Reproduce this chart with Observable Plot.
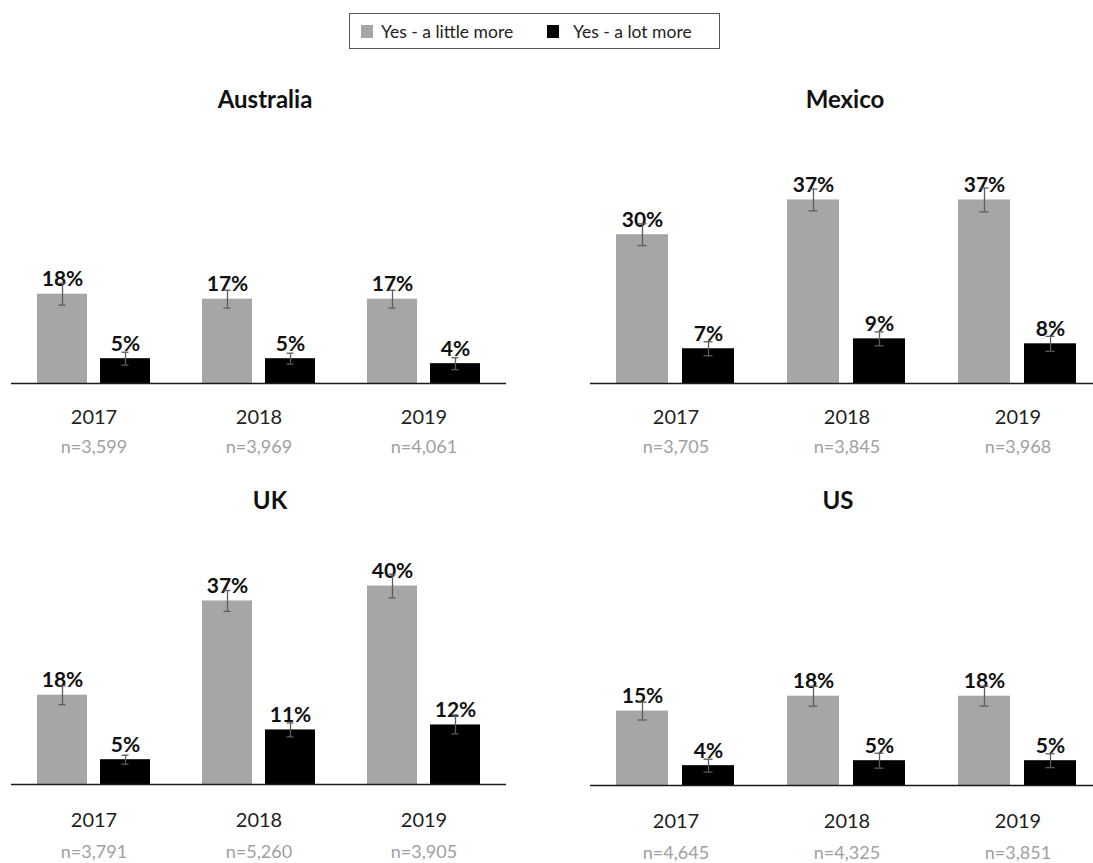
<!DOCTYPE html>
<html>
<head>
<meta charset="utf-8">
<script src="https://cdn.jsdelivr.net/npm/d3@7"></script>
<script src="https://cdn.jsdelivr.net/npm/@observablehq/plot@0.6"></script>
<style>
  html, body { margin: 0; padding: 0; background: #fff; overflow: hidden; }
  #root { position: relative; width: 1093px; height: 863px; overflow: hidden; background: #fff; font-family: Lato, "Open Sans", sans-serif; }
  .panel { position: absolute; }
  .title { position: absolute; transform: translate(-50%, -50%); font-weight: bold; font-size: 24px; color: #111; white-space: nowrap; }
  #legend { position: absolute; left: 349px; top: 13px; width: 371px; height: 36px; border: 1px solid #555; box-sizing: border-box; }
  .sw { position: absolute; width: 12px; height: 13px; top: 11px; }
  .lt { position: absolute; top: 17px; transform: translateY(-50%); font-size: 17.5px; color: #222; white-space: nowrap; }
</style>
</head>
<body>
<div id="root"></div>
<script>
const years = ["2017", "2018", "2019"];
const seriesNames = ["Yes - a little more", "Yes - a lot more"];
const seriesColors = ["#a6a6a6", "#000000"];

const australiaLittle = [18, 17, 17];
const australiaLot = [5, 5, 4];
const australiaLittleErr = [2.2, 1.8, 1.8];
const australiaLotErr = [1.3, 1.1, 1.2];
const australiaN = ["n=3,599", "n=3,969", "n=4,061"];

const mexicoLittle = [30, 37, 37];
const mexicoLot = [7, 9, 8];
const mexicoLittleErr = [2.2, 2.2, 2.4];
const mexicoLotErr = [1.4, 1.4, 1.5];
const mexicoN = ["n=3,705", "n=3,845", "n=3,968"];

const ukLittle = [18, 37, 40];
const ukLot = [5, 11, 12];
const ukLittleErr = [1.9, 2.1, 2.4];
const ukLotErr = [0.9, 1.4, 1.8];
const ukN = ["n=3,791", "n=5,260", "n=3,905"];

const usLittle = [15, 18, 18];
const usLot = [4, 5, 5];
const usLittleErr = [1.8, 2.0, 2.0];
const usLotErr = [1.3, 1.5, 1.4];
const usN = ["n=4,645", "n=4,325", "n=3,851"];

const root = document.getElementById("root");

function panel(title, little, lot, littleErr, lotErr, nLabels, o) {
  const rows = [];
  years.forEach((y, i) => {
    rows.push({year: y, series: seriesNames[0], value: little[i], err: littleErr[i]});
    rows.push({year: y, series: seriesNames[1], value: lot[i], err: lotErr[i]});
  });
  const yearRows = years.map((y, i) => ({year: y, n: nLabels[i]}));
  const svg = Plot.plot({
    width: o.width,
    height: 340,
    marginLeft: o.ml,
    marginRight: o.mr,
    marginTop: 0,
    marginBottom: 87,
    fx: {domain: years, padding: 0, axis: null},
    x: {domain: seriesNames, paddingInner: 0.21, paddingOuter: 0.395, axis: null},
    y: {domain: [0, 51], axis: null},
    color: {domain: seriesNames, range: seriesColors},
    style: {fontFamily: "Lato, 'Open Sans', sans-serif", background: "transparent", overflow: "visible", maxWidth: "none"},
    marks: [
      Plot.barY(rows, {fx: "year", x: "series", y: "value", fill: "series"}),
      Plot.ruleY([0], {stroke: "#1a1a1a", strokeWidth: 1.6}),
      Plot.text(rows, {fx: "year", x: "series", y: "value", text: d => d.value + "%", dy: -8, lineAnchor: "bottom", fontWeight: "bold", fontSize: 21, fill: "#111"}),
      Plot.ruleX(rows, {fx: "year", x: "series", y1: d => d.value - d.err, y2: d => d.value + d.err, stroke: "#5c5c5c", strokeWidth: 1.3}),
      Plot.tickY(rows, {fx: "year", x: "series", y: d => d.value + d.err, insetLeft: 21.5, insetRight: 21.5, stroke: "#5c5c5c", strokeWidth: 1.3}),
      Plot.tickY(rows, {fx: "year", x: "series", y: d => d.value - d.err, insetLeft: 21.5, insetRight: 21.5, stroke: "#5c5c5c", strokeWidth: 1.3}),
      Plot.text(yearRows, {fx: "year", text: "year", frameAnchor: "bottom", dy: o.yearDy, fontSize: 20, fill: "#1e1e1e"}),
      Plot.text(yearRows, {fx: "year", text: "n", frameAnchor: "bottom", dy: o.nDy, fontSize: 18, fill: "#a0a0a0"})
    ]
  });
  const wrap = document.createElement("div");
  wrap.className = "panel";
  wrap.style.left = o.left + "px";
  wrap.style.top = o.top + "px";
  wrap.appendChild(svg);
  root.appendChild(wrap);
  const t = document.createElement("div");
  t.className = "title";
  t.textContent = title;
  t.style.left = o.titleX + "px";
  t.style.top = o.titleY + "px";
  root.appendChild(t);
}

panel("Australia", australiaLittle, australiaLot, australiaLittleErr, australiaLotErr, australiaN,
  {left: 0, top: 130, width: 540, ml: 10, mr: 33, yearDy: 40, nDy: 69, titleX: 265, titleY: 98});
panel("Mexico", mexicoLittle, mexicoLot, mexicoLittleErr, mexicoLotErr, mexicoN,
  {left: 540, top: 130, width: 563, ml: 50, mr: 0, yearDy: 40, nDy: 69, titleX: 845, titleY: 98});
panel("UK", ukLittle, ukLot, ukLittleErr, ukLotErr, ukN,
  {left: 0, top: 531, width: 540, ml: 10, mr: 33, yearDy: 42, nDy: 73, titleX: 270, titleY: 499});
panel("US", usLittle, usLot, usLittleErr, usLotErr, usN,
  {left: 540, top: 532, width: 563, ml: 50, mr: 0, yearDy: 42, nDy: 73, titleX: 838, titleY: 499});

// legend
const legend = document.createElement("div");
legend.id = "legend";
const legendPos = [{sw: 11, tx: 31}, {sw: 197, tx: 223}];
seriesNames.forEach((s, i) => {
  const sw = document.createElement("div");
  sw.className = "sw";
  sw.style.left = legendPos[i].sw + "px";
  sw.style.background = seriesColors[i];
  legend.appendChild(sw);
  const lt = document.createElement("div");
  lt.className = "lt";
  lt.style.left = legendPos[i].tx + "px";
  lt.textContent = s;
  legend.appendChild(lt);
});
root.appendChild(legend);
</script>
</body>
</html>
